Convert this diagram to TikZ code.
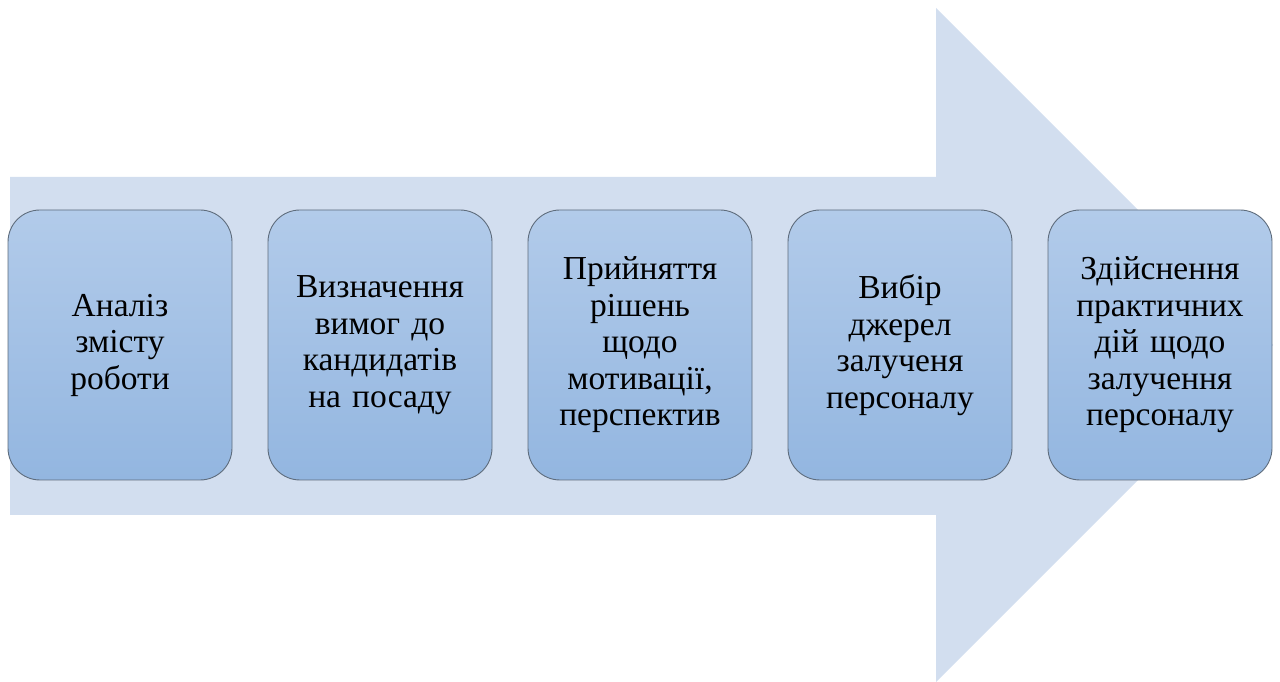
\documentclass[tikz,border=0pt]{standalone}
\usepackage{fontspec}
\setmainfont{Liberation Serif}
\definecolor{arrowfill}{HTML}{D2DEEF}
\definecolor{boxtop}{HTML}{B2CBEA}
\definecolor{boxbot}{HTML}{93B6E0}
\definecolor{boxline}{HTML}{5E6C7C}
\tikzset{
  stepbox/.style={rounded corners=32pt, draw=boxline, line width=0.9pt,
    top color=boxtop, bottom color=boxbot, minimum width=224pt, minimum height=270pt,
    align=center, text width=215pt, inner sep=0pt,
    font=\fontsize{33.5}{36.5}\selectfont}
}
\begin{document}
\begin{tikzpicture}[x=1pt,y=1pt]
\useasboundingbox (0,0) rectangle (1280,682);
% big arrow (y = 682 - pixel y)
\fill[arrowfill] (10,505) -- (936,505) -- (936,674) -- (1273,337) -- (936,0) -- (936,167) -- (10,167) -- cycle;
\node[stepbox] (s1) at (120,337) {Аналіз\\змісту\\роботи};
\node[stepbox] (s2) at (380,337) {Визначення\\вимог до\\кандидатів\\на посаду};
\node[stepbox] (s3) at (640,337) {Прийняття\\рішень\\щодо\\мотивації,\\перспектив};
\node[stepbox] (s4) at (900,337) {Вибір\\джерел\\залученя\\персоналу};
\node[stepbox] (s5) at (1160,337) {Здійснення\\практичних\\дій щодо\\залучення\\персоналу};
\end{tikzpicture}
\end{document}
